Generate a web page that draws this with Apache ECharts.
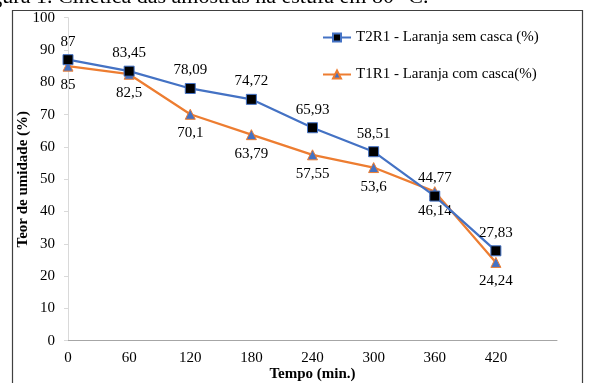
<!DOCTYPE html>
<html>
<head>
<meta charset="utf-8">
<script src="https://cdn.jsdelivr.net/npm/echarts@6/dist/echarts.min.js"></script>
<style>
  html, body { margin: 0; padding: 0; background: #fff; }
  #chart { width: 592px; height: 383px; }
</style>
</head>
<body>
<div id="chart"></div>
<script>
// Drying time in minutes
const tempo = [0, 60, 120, 180, 240, 300, 360, 420];
// Moisture content (%) for each sample
const semCasca = [87, 83.45, 78.09, 74.72, 65.93, 58.51, 44.77, 27.83];
const comCasca = [85, 82.5, 70.1, 63.79, 57.55, 53.6, 46.14, 24.24];
const yTicks = [0, 10, 20, 30, 40, 50, 60, 70, 80, 90, 100];

const serif = '"Liberation Serif", "Times New Roman", serif';
const fmt = v => String(v).replace('.', ',');

const chart = echarts.init(document.getElementById('chart'), null, { renderer: 'canvas' });

chart.setOption({
  animation: false,
  backgroundColor: '#ffffff',
  textStyle: { fontFamily: serif },
  graphic: [
    {
      type: 'text',
      left: -27,
      top: -14,
      z: 0,
      style: {
        text: 'Figura 1. Cinética das amostras na estufa em 80 °C.',
        font: '22px ' + serif,
        fill: '#000'
      }
    },
    {
      type: 'rect',
      z: 0,
      shape: { x: 12.5, y: 10.5, width: 570, height: 400 },
      style: { fill: 'none', stroke: '#404040', lineWidth: 1.2 }
    }
  ],
  grid: {
    left: 68, right: 35, top: 17.7, bottom: 42.3,
    containLabel: false,
    outerBoundsMode: 'none'
  },
  legend: {
    orient: 'vertical',
    left: 317,
    top: 25,
    itemGap: 22,
    itemWidth: 28,
    itemHeight: 10,
    textStyle: { fontFamily: serif, fontSize: 15, color: '#000' },
    data: [
      { name: 'T2R1 - Laranja sem casca (%)' },
      { name: 'T1R1 - Laranja com casca(%)' }
    ]
  },
  xAxis: {
    type: 'value',
    min: 0,
    max: 480,
    interval: 60,
    name: 'Tempo (min.)',
    nameLocation: 'middle',
    nameGap: 26,
    nameMoveOverlap: false,
    nameTextStyle: { fontFamily: serif, fontSize: 15, fontWeight: 'bold', color: '#000' },
    axisLine: { show: true, lineStyle: { color: '#a6a6a6', width: 1 } },
    axisTick: { show: false },
    splitLine: { show: false },
    axisLabel: {
      fontFamily: serif, fontSize: 15, color: '#000', margin: 10,
      formatter: v => (tempo.indexOf(v) >= 0 ? String(v) : '')
    }
  },
  yAxis: {
    type: 'value',
    min: yTicks[0],
    max: yTicks[yTicks.length - 1],
    interval: 10,
    name: 'Teor de umidade (%)',
    nameLocation: 'middle',
    nameGap: 37,
    nameMoveOverlap: false,
    nameTextStyle: { fontFamily: serif, fontSize: 15, fontWeight: 'bold', color: '#000' },
    axisLine: { show: true, lineStyle: { color: '#d9d9d9', width: 1 } },
    axisTick: { show: true, inside: false, length: 4, lineStyle: { color: '#d9d9d9' } },
    splitLine: { show: false },
    axisLabel: { fontFamily: serif, fontSize: 15, color: '#000', margin: 13 }
  },
  series: [
    {
      name: 'T2R1 - Laranja sem casca (%)',
      type: 'line',
      data: tempo.map((t, i) => [t, semCasca[i]]),
      symbol: 'rect',
      symbolSize: 10,
      z: 3,
      lineStyle: { color: '#4472C4', width: 2.25 },
      itemStyle: { color: '#000000', borderColor: '#4472C4', borderWidth: 1 },
      label: {
        show: true, position: 'top', distance: 5,
        fontFamily: serif, fontSize: 15, color: '#000',
        formatter: p => fmt(p.value[1])
      }
    },
    {
      name: 'T1R1 - Laranja com casca(%)',
      type: 'line',
      data: tempo.map((t, i) => [t, comCasca[i]]),
      symbol: 'triangle',
      symbolSize: 10,
      z: 2,
      lineStyle: { color: '#ED7D31', width: 2.25 },
      itemStyle: { color: '#4472C4', borderColor: '#ED7D31', borderWidth: 1 },
      label: {
        show: true, position: 'bottom', distance: 6,
        fontFamily: serif, fontSize: 15, color: '#000',
        formatter: p => fmt(p.value[1])
      }
    }
  ]
});
</script>
</body>
</html>
